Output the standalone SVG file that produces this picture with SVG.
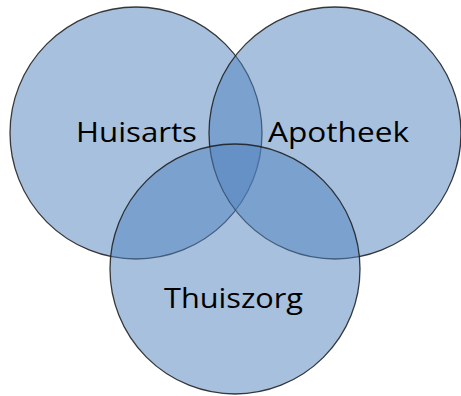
<svg xmlns="http://www.w3.org/2000/svg" width="461" height="396" viewBox="0 0 461 396">
<style>
.c{fill:#4f81bd;fill-opacity:0.5;stroke:#1a1a1a;stroke-opacity:0.85;stroke-width:1.3}
.t{font-family:"Open Sans","Noto Sans",sans-serif;font-size:28px;fill:#000}
</style>
<rect width="461" height="396" fill="#fff"/>
<g id="huisarts"><circle class="c" cx="136" cy="133" r="126"/></g>
<g id="apotheek"><circle class="c" cx="335" cy="133" r="126"/></g>
<g id="thuiszorg"><circle class="c" cx="235" cy="269" r="125"/></g>
<g id="labels">
<text class="t" x="76" y="142" textLength="121" lengthAdjust="spacingAndGlyphs">Huisarts</text>
<text class="t" x="268" y="142" textLength="141" lengthAdjust="spacingAndGlyphs">Apotheek</text>
<text class="t" x="164" y="308" textLength="139" lengthAdjust="spacingAndGlyphs">Thuiszorg</text>
</g>
</svg>
